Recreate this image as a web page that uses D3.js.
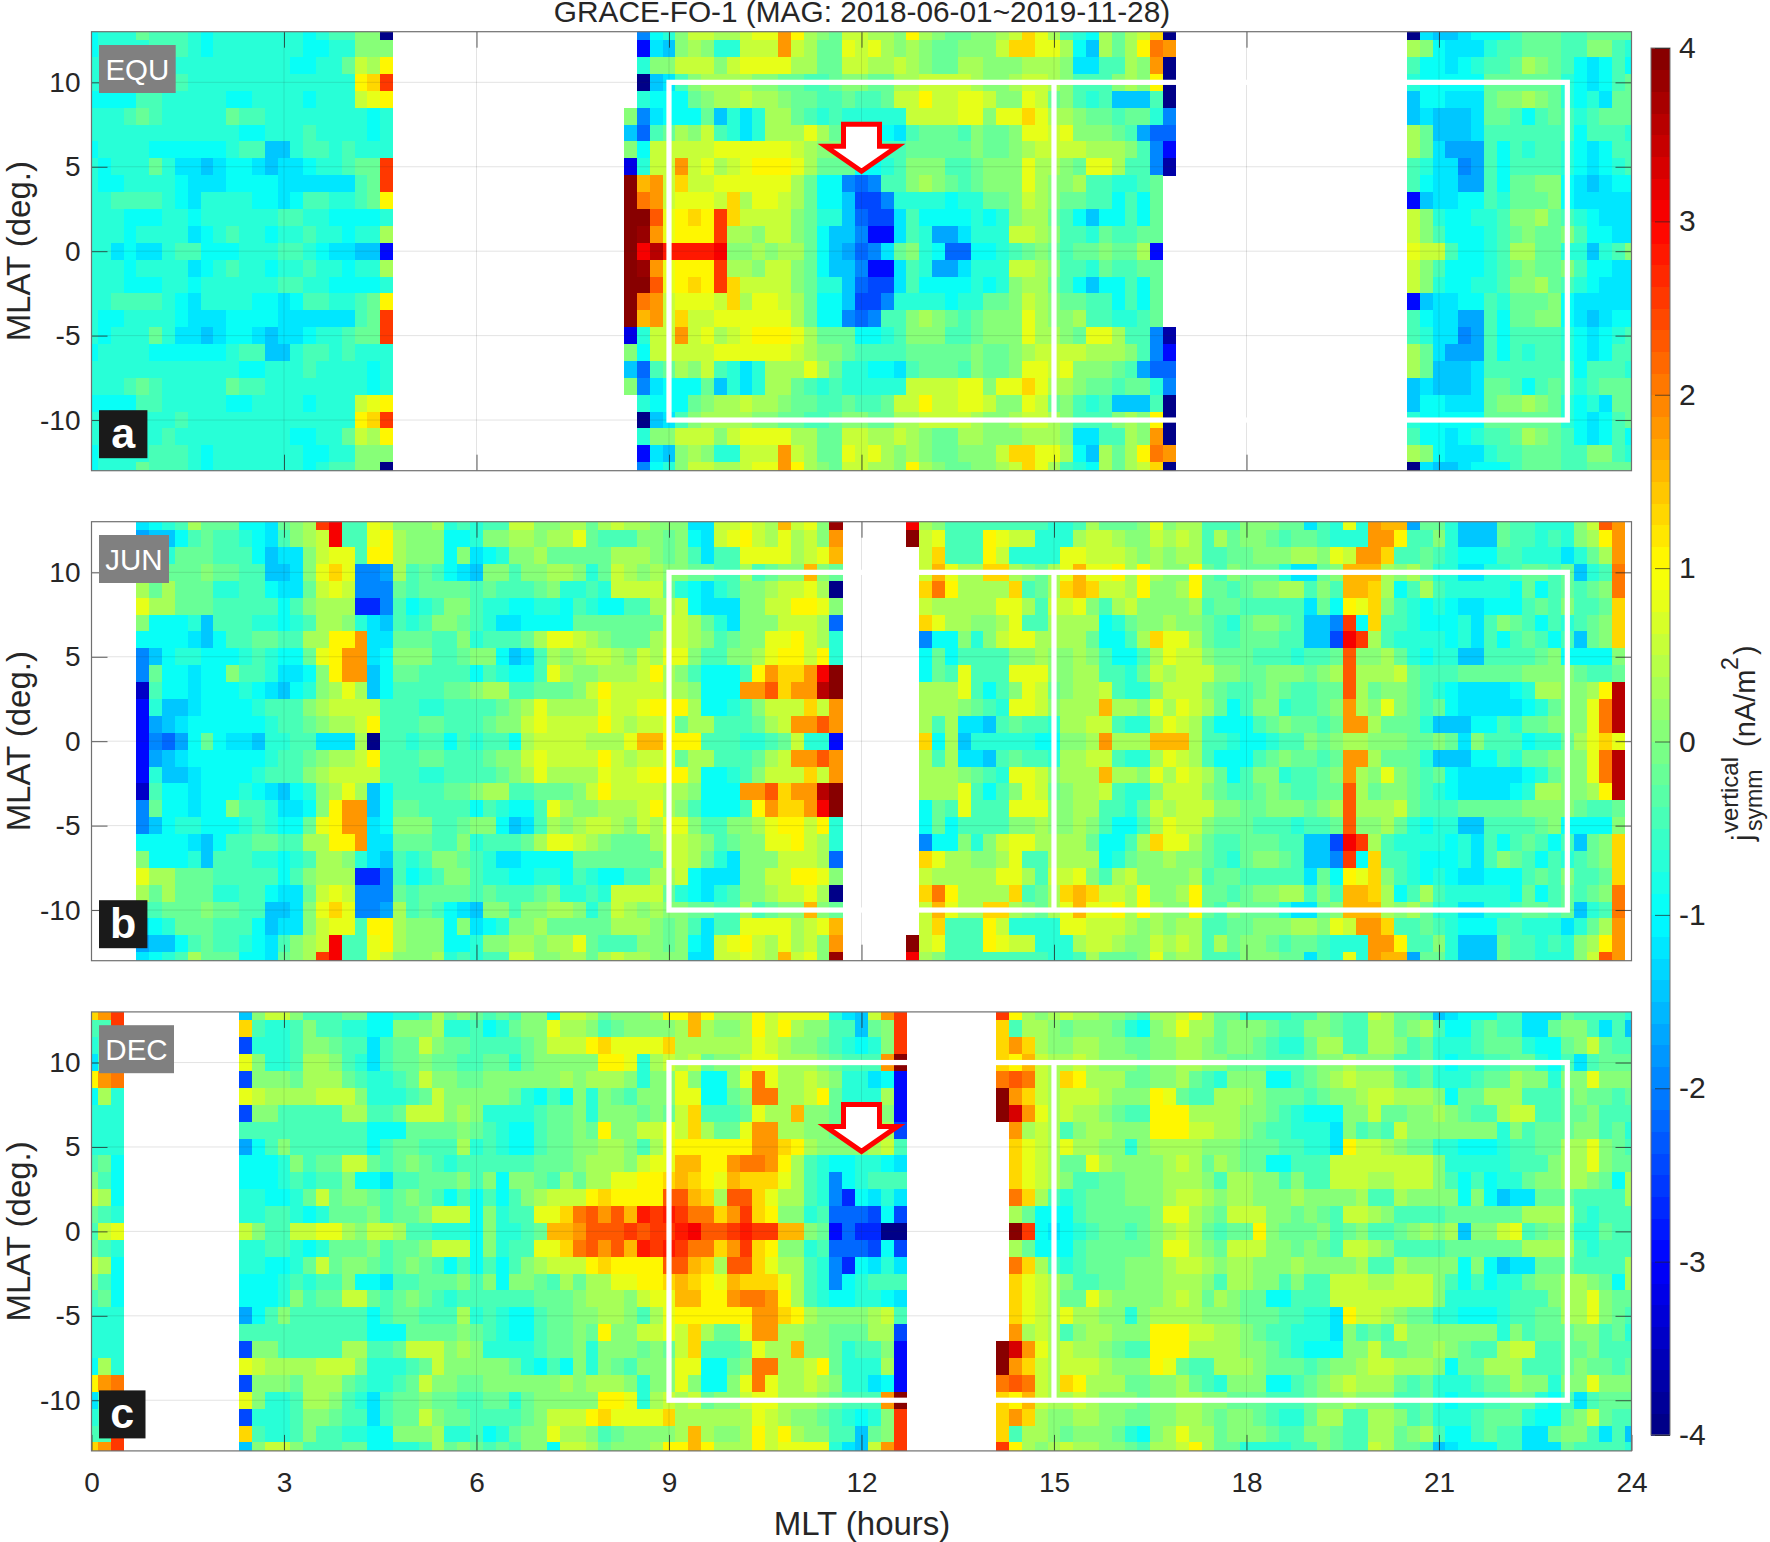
<!DOCTYPE html>
<html><head><meta charset="utf-8">
<style>html,body{margin:0;padding:0;background:#fff}svg{display:block}text{font-family:"Liberation Sans",Arial,sans-serif;fill:#262626}</style>
<script src="https://cdn.jsdelivr.net/npm/d3@7"></script>
</head><body><div id="chart"></div>
<script>
// Each letter is one 0.25 nA/m2 step: a=-4 ... q=0 ... G=+4; "." is no data.
// Rows run from MLAT +13 down to the equator; the symmetric map mirrors them south.
const levels = "abcdefghijklmnopqrstuvwxyzABCDEFG";
const equRows = [
"mnnnpooonmnnnnnnnmnooqqa .................. .imnqssrrsttxurqpssrrqurqppqqrsvtronmrprsva .................. alkklmmmopppoopppp",
"mnnnnooonmnnnnnnnmmnnqqq .................. .elkqrqnnsssxsrpptstrqrqppqqqsvvttrmkrpruyx .................. rqmlllnoopppooqqon",
"nnnnnnonnnnnnnnnmmnnpsru .................. .nqqsssqsttttrrppssrrsrqpprrqqqrrrqlloorqxa .................. ommlmnooprqpomlmom",
"nnnnnnnonnnnnnnnnnnnnuvA .................. .akloqrrrrqqppoopqqpprrssssrqqrssrqoooqrqua .................. nmmmmmppppppnmlmop",
"mmmmoonnnnnmmnnnnmnnnstu .................. .nmmmpqrrsrrqppoopoopssussttsqqtspqonokkkoa .................. kmmlllpqqrqpnmnlpp",
"nnnoponnnnnpoonnnnnnnnmn .................. qilmmmpknlnrrpononnnnnssssttqttvtrrqppoppni .................. klkkklppomoponoppp",
"nnnnnnnnnnnnmmnnnonnnnmn .................. khoprqsonlnrrrtrpnnmmlopppoqppqttstqqqpojhh .................. rpkkklooooooomooon",
"mnnnnmmmmmmnookknoononnn .................. qmsssssttttttsrqqpoooopppppqppqrssssrrrqoie .................. rpljjjomonoonmlmoo",
"nmnnnpnllklmmlkllmnnoppA .................. dnssxstrstuuutrpppmmnoqqqoopqqqtrrqpttrooib .................. onllijomoooonmlmno",
"nmmnnnnmlllmmmmllllllopA .................. Gwxsvssttttttrpmmihiooqrqpopqqqtrqqroonnop. .................. omlljjomppqqmlklmm",
"nnoooonmlnnnnmmlmoonnopu .................. Gyxstttsvrttsrpmmkgginnnnmnnppqsrqppoomomp. .................. ekllmmonpppqmlllll",
"nnnmmmnnmnnnnnnoonnmmmmn .................. GGztuvuAvssssqpnnkhgglommmmnmnqrrpomkmmomp. .................. sqnmmnnoqqrponmlll",
"nnnmnnnnlmnonnmnnonnmnnr .................. GFxtuuuArrqssqpmkkieelonjjlnnnssrqoonpoopp. .................. sqommmnopqppqommll",
"nnlmllnoommmnnnoonmllkke .................. GCEBBBBCqqrqrrpmkjhilpqnmhhmmnopqpoppqppre. .................. tssommnorrppnnknoq"
];
const junRows = [
".... lmnorpppmmlpqrACootsqqqrnonoossqqrrprsrrq qqllsstsrwstqF ..... C rqoooooooonnorpppqtq rroooqqqpplontnxwwjppnkkkpoonnnqszx.",
".... jkkmopoonmloqrsCooturqqqmmnqqrrqrrtpoooqq pqmlstusrtrsqx ..... G stoooutssnnnrssrqqsr srorpqqpopponnnxxuooqnkkkpoononqrux.",
".... lmnpppooomkllqsttouurqqqmqlmnqqrppppprrrq pqoloottttrstw ..... . svooousnnnnttsssrqrq rrooppqqqrrqtsxxvooponmmmoonnnlnprx.",
".... oopppqppookklqtvtiijropomlkqqoqqrrqnpsrqr qqppooropqqwqp ..... . swtrrvvrqprtwttururq qupoqpppnllpqwwwrqrpnnllnnoppopknoy.",
".... rprpppnnoomllpstsiiipoppppopooopqnnonssss pnmlnoqqrsstra ..... . vyurrrrvoprvwvssruqq ruppopqqrroqowwvrmoronnnnnmpmopopqy.",
".... trrpppooooomoqrrrffiomnoqqonnmmnnmonmmoor rsmlllqqssuutq ..... . srrrrrttrosstqorsqqq qroppooooolpmutvqonmnmllmmmopoqoopv.",
".... qmmmnkooonnmnorrqnlkonoqqponllmmmmppppppp ssrpnlqqqsssrh ..... . vtrrqqrtoorrrrmnpqqr qqponpqqpokkiAmvoonmmmnloqpomonopqv.",
".... mmmmlkmooppoorruuxllpppooqnooopr ttsrqpppr ssrqopqqttusrn ..... . immqnqsttrrrrpmmorvt trpoopppookkgCAronnnnmnlomopomokpqv.",
".... ikmnnmmmnonmmptuxxlmqqqoopqqmklorqrssrqsr ttqooqqrtuusun ..... . mpmooooqqrqqrqommort ssqpppooonoopzqqrpnmnnkkoooopqmmmmq.",
".... ipmmlmmqoonllmquxxkmppoooomonmmotrqqrrrsu rqommmouxvvxCG ..... . mpotoootttqqrroonpsr sssqqppqqqpqrzrrrspooopppppqqqqpoop.",
".... commlmmmnmlkmnqrtrkmooooppqrroopppqsussss rrqmmmxxzvxxEG ..... . rrrtomoqtspqrrsonnqs ssqpoopqpooppzrpqqponmllllmnrrqqruE.",
".... enkklmmmmnoooqrssssooonnoooopqrtrrrrtsstu uurmmnoqsssvsx ..... . rrrqponttsqrrrwrrqtr tsrpmoqqnoopqxrqtqpopmlllllmnpqqtyE.",
".... ejklmmmmmmnoopqrrsuoooppooopqqstssssusrss tprroooprsxxzx ..... . rorllkopoonrrssonnrt srommmopqppopxxrpppnkkkmmonppqqqtyE.",
".... eihjmpmllknnoolllraoonoomonoomrssssrrrtww uuuooonnopsnne ..... . vmrknnnnnmmqqrxrrrww wroonmmnooqpqrrqqqppqplqooomnnprtvt."
];
const decRows = [
"vxA ......... kqssqoooppmmnnorpqpopoqqmssrpqqqru uwurrrusttttnlksxA ....... Aurqrsrrqqporrsu rppnnnnooqpoosrppoklmmmoolllpoooon",
"ooA ......... vonnoqoonnmmqqqrnnomnpqqtrrqopqqqq rwrqqrusurqqookpqA ....... vorrqpqqqpnmqrtr rpqqqpooqqpoorrpqrommopoollpqqolok",
"noo ......... gnnnoqqpoolopp sqppoooopqsssuvttttv rrrrrrtsrqqponmnqA ....... vxvrqqrrqqppqqrr qpqqponnprroorrqopnnnopppnmmpqspoo",
"loo ......... tqnnorrqonloppqppoopp npqqqqquutnrs rspqqsttrrrqpoooxG ....... vuwsrrsrqqqpqqrr qqpppooopqqrqqqoopnmnnooppnmoloppp",
"uxy ......... gqqqprrrponnopsqqppqqqqqqrqrrrqnqq tqmmqtytrrsrqnnlme ....... yzysrvurrrppqqrp onqqqmmopqrsrrrpopnnnopprqqnqqtqqq",
"mrn ......... tsrrrrsssqnnnopsqqqqqpnmomqnqpoqqq ttmmpqyyrrsupnnnre ....... Gxvsrsssrqqqutpo orrrqpppopqqrssrrrqmpprrrooopqppop",
"nnn ......... gqqooooorroopsssqrqnnnnoppqnqqqpqp svoooptrrwqqpnooqe ....... GDxtrsrrqpoouuur rrrqqponmmmqqsppqqrqpoorssooppqooo",
"nnn ......... oooooooooommmppppqponmmoppqpuqqsst svrpptxxrrqqppprrg ....... .xrsroqrrqqquuus srrqpoonnnlqoposqqqqqqqnqopppqqopn",
"nnn ......... jmoqoooooomoppooorn onmmoppqqrrqort uuuuuuxxvurqqqqrso ....... .vtsrtrrqqnqrrrr qqqpppoonnlussrqppnnmmmnoopprrtqpo",
"opm ......... mmmnqoppsspopqponoooooopppqrrrqstt wwuuxyyxuronmmnnml ....... .vtsrpptrqqqqrsr prqppmmooossssssssqnnnnnoooqrrtqpp",
"qom ......... mmmnonooqmmloopppqoqmqqporprrttuuv wvutwvvvtronimnooo ....... .vtsrqooppqqqrrr qorrqqoqoosssrrsssqomomnnpqqrrqpmr",
"srm ......... nnmmnpspqqpopqpomomomoqrsssuvuuuuz zwvrzzvtrronifmlnl ....... .yvronopppqqqrss rqrrqqqrqqqqroorqqqqmqmkllpppoooor",
"pon ......... nnoonmnpppqoppqsssmqnoottvyzxzwBAB AyyvxAvuqqnohhhgmg ....... .rpmmmopppppqttr qpsssqqpqpossrqoooopppppprrrronooo",
"ost ......... sqoossttrqssroonnnmqnnopwwxzzzAzAA BCzzABAAwwqpehffaa ....... .GAmlmnoppopqrsr poppuqpppqopqoopqrqrkqqstopqqnnpoo"
];
const panelTags = ["EQU", "JUN", "DEC"];
const panelLetters = ["a", "b", "c"];
const titleText = "GRACE-FO-1 (MAG: 2018-06-01~2019-11-28)";
const xTicks = [0, 3, 6, 9, 12, 15, 18, 21, 24];
const yTicks = [-10, -5, 0, 5, 10];
const barTicks = [-4, -3, -2, -1, 0, 1, 2, 3, 4];
const binHours = 0.2, binDeg = 1;

const W = 1770, H = 1542, L = 91.5, R = 1631.5;
const tops = [31.7, 521.7, 1011.9], panelH = 439;
const tagWidths = [76.7, 70, 75], letterWidths = [48.4, 48.4, 46.5];

const jetStops = d3.scaleLinear().domain([-4, -3, -1, 1, 3, 4])
  .range(["#000080", "#0000ff", "#00ffff", "#ffff00", "#ff0000", "#800000"]);
const jet = d3.scaleQuantize().domain([-4, 4])
  .range(d3.range(64).map(i => jetStops(-4 + (i + 0.5) * 8 / 64)));

const svg = d3.select("#chart").append("svg").attr("width", W).attr("height", H);
const defs = svg.append("defs");
const x = d3.scaleLinear().domain([0, 24]).range([L, R]);

function expand(rows) {
  const north = rows.map(r => r.replace(/ /g, "").padEnd(121, ".").slice(0, 121));
  return north.concat(north.slice(0, -1).reverse());
}

[equRows, junRows, decRows].forEach((rows, p) => {
  const top = tops[p];
  const y = d3.scaleLinear().domain([13, -13]).range([top, top + panelH]);
  const grid = expand(rows);
  const cells = [];
  grid.forEach((row, r) => { for (let c = 0; c < 121; c++) {
    if (row[c] !== ".") cells.push({ hour: c * binHours, lat: 13 - r * binDeg, v: -4 + levels.indexOf(row[c]) * 0.25 });
  }});
  defs.append("clipPath").attr("id", "clip" + p).append("rect")
    .attr("x", L).attr("y", top).attr("width", R - L).attr("height", panelH);
  const g = svg.append("g");
  g.append("g").attr("clip-path", `url(#clip${p})`).attr("shape-rendering", "crispEdges")
    .selectAll("rect").data(cells).join("rect")
    .attr("x", d => x(d.hour - binHours / 2))
    .attr("width", d => x(d.hour + binHours / 2) - x(d.hour - binHours / 2) + 0.4)
    .attr("y", d => y(d.lat + binDeg / 2))
    .attr("height", d => y(d.lat - binDeg / 2) - y(d.lat + binDeg / 2) + 0.4)
    .attr("fill", d => jet(d.v));

  const gridG = g.append("g").attr("stroke", "#262626").attr("stroke-opacity", 0.13).attr("stroke-width", 1);
  gridG.selectAll(".gx").data(xTicks.slice(1, -1)).join("line")
    .attr("x1", d => x(d)).attr("x2", d => x(d)).attr("y1", top).attr("y2", top + panelH);
  gridG.selectAll(".gy").data(yTicks).join("line")
    .attr("y1", d => y(d)).attr("y2", d => y(d)).attr("x1", L).attr("x2", R);

  const axisStyle = a => { a.select(".domain").remove();
    a.selectAll(".tick line").attr("stroke", "#262626").attr("stroke-opacity", 0.75);
    a.selectAll("text").style("font-size", "28px").attr("fill", "#262626"); };
  const fmt = d => String(d);
  g.append("g").attr("transform", `translate(${L},0)`)
    .call(d3.axisLeft(y).tickValues(yTicks).tickSize(-16).tickPadding(11).tickFormat(fmt)).call(axisStyle);
  g.append("g").attr("transform", `translate(${R},0)`)
    .call(d3.axisRight(y).tickValues(yTicks).tickSize(-16).tickFormat("")).call(axisStyle);
  g.append("g").attr("transform", `translate(0,${top})`)
    .call(d3.axisTop(x).tickValues(xTicks.slice(1, -1)).tickSize(-16).tickFormat("")).call(axisStyle);
  g.append("g").attr("transform", `translate(0,${top + panelH})`)
    .call(d3.axisBottom(x).tickValues(p === 2 ? xTicks : xTicks.slice(1, -1)).tickSize(-16).tickPadding(21)
      .tickFormat(p === 2 ? fmt : "")).call(axisStyle);

  g.append("rect").attr("x", L).attr("y", top).attr("width", R - L).attr("height", panelH)
    .attr("fill", "none").attr("stroke", "#707070").attr("stroke-width", 1.2);

  // white analysis box
  g.append("rect").attr("x", x(9)).attr("y", y(10)).attr("width", x(23) - x(9)).attr("height", y(-10) - y(10))
    .attr("fill", "none").attr("stroke", "#fff").attr("stroke-width", 5.2);
  g.append("line").attr("x1", x(15)).attr("x2", x(15)).attr("y1", y(10)).attr("y2", y(-10))
    .attr("stroke", "#fff").attr("stroke-width", 5.2);

  // arrow at noon
  if (p !== 1) {
    const ax = x(12), ay = top;
    g.append("path")
      .attr("d", `M${ax - 18},${ay + 92.5}H${ax + 18}V${ay + 114.5}H${ax + 36}L${ax},${ay + 139.5}L${ax - 36},${ay + 114.5}H${ax - 18}Z`)
      .attr("fill", "#fff").attr("stroke", "#ff0000").attr("stroke-width", 5);
  }

  // tag and panel letter
  g.append("rect").attr("x", 99).attr("y", top + 13.3).attr("width", tagWidths[p]).attr("height", 48).attr("fill", "#808080");
  g.append("text").attr("x", 99 + tagWidths[p] / 2).attr("y", top + 48).attr("text-anchor", "middle")
    .style("font-size", "29.5px").style("fill", "#fff").text(panelTags[p]);
  g.append("rect").attr("x", 99).attr("y", top + 378.5).attr("width", letterWidths[p]).attr("height", 48).attr("fill", "#1a1a1a");
  g.append("text").attr("x", 99 + letterWidths[p] / 2).attr("y", top + 416).attr("text-anchor", "middle")
    .style("font-size", "43px").style("font-weight", "bold").style("fill", "#fff").text(panelLetters[p]);

  // y label
  g.append("text").attr("transform", `translate(30,${top + panelH / 2}) rotate(-90)`).attr("text-anchor", "middle")
    .style("font-size", "33px").text("MLAT (deg.)");
});

svg.append("text").attr("x", 862).attr("y", 22).attr("text-anchor", "middle").style("font-size", "29.8px").text(titleText);
svg.append("text").attr("x", 862).attr("y", 1535).attr("text-anchor", "middle").style("font-size", "33px").text("MLT (hours)");

// colour bar
const cbX = 1651, cbW = 19, cbY = d3.scaleLinear().domain([4, -4]).range([48, 1435]);
const cb = svg.append("g");
cb.append("g").attr("shape-rendering", "crispEdges").selectAll("rect").data(jet.range()).join("rect")
  .attr("x", cbX).attr("width", cbW)
  .attr("y", (d, i) => cbY(-4 + (i + 1) * 8 / 64))
  .attr("height", (d, i) => cbY(-4 + i * 8 / 64) - cbY(-4 + (i + 1) * 8 / 64) + 0.5)
  .attr("fill", d => d);
cb.append("rect").attr("x", cbX).attr("y", 48).attr("width", cbW).attr("height", 1387)
  .attr("fill", "none").attr("stroke", "#707070").attr("stroke-width", 1);
const cbAxis = cb.append("g").attr("transform", `translate(${cbX + cbW},0)`)
  .call(d3.axisRight(cbY).tickValues(barTicks).tickSize(-15).tickPadding(9).tickFormat(d => String(d)));
cbAxis.select(".domain").remove();
cbAxis.selectAll(".tick line").attr("stroke", "#262626").attr("stroke-opacity", 0.7);
cbAxis.selectAll("text").attr("x", 9).style("font-size", "30px").attr("fill", "#262626");

// colour bar label
function rot(xp, yp, size, str) {
  return svg.append("text").attr("transform", `translate(${xp},${yp}) rotate(-90)`).style("font-size", size + "px").text(str);
}
rot(1753, 841, 29, "j");
rot(1738, 833, 24, "vertical");
rot(1762, 831, 23, "symm");
rot(1755, 747, 29, "(nA/m");
rot(1738, 670, 23, "2");
rot(1755, 655, 29, ")");
</script></body></html>
